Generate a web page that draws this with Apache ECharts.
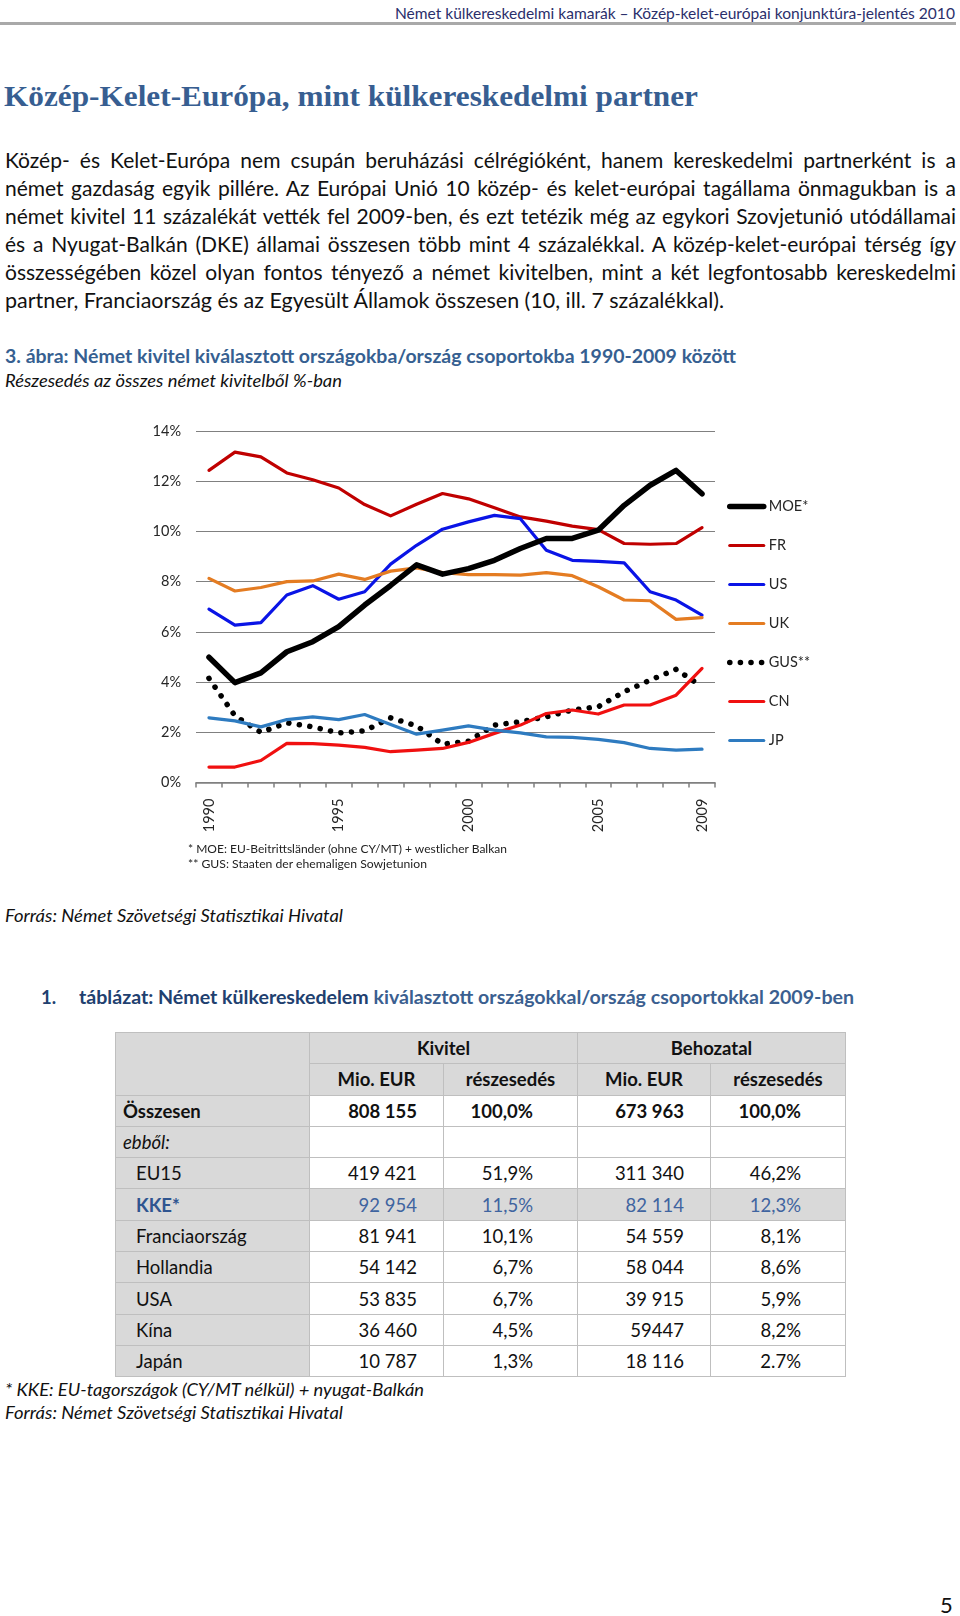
<!DOCTYPE html>
<html><head><meta charset="utf-8">
<script src="https://cdn.jsdelivr.net/npm/echarts@6/dist/echarts.min.js"></script>
<style>
html,body{margin:0;padding:0;background:#fff;}
body{width:960px;height:1616px;position:relative;overflow:hidden;font-family:Lato,'Open Sans',sans-serif;color:#111;}
.t{position:absolute;white-space:nowrap;display:inline-block;}
#rule{position:absolute;left:0;top:22px;width:956px;height:3px;background:#a9a9a9;}
table{position:absolute;left:115px;top:1032px;border-collapse:collapse;table-layout:fixed;font-size:18.5px;}
tr{height:31.3px;}
td{border:1.5px solid #bfbfbf;padding:0;white-space:nowrap;line-height:20px;}
td.g{background:#d9d9d9;}
td.lab{padding-left:7px;text-align:left;}
td.ind{padding-left:20px;}
td.m{text-align:right;padding-right:26px;}
td.p{text-align:right;padding-right:44px;}
td.h{text-align:center;font-weight:bold;}
.blue td.v{color:#3f64a0;}
</style></head>
<body>
<div class="t" id="hdr" data-w="560" data-anchor="right" style="right:5px;top:3px;font-size:15px;line-height:20px;color:#2b2f6b;">Német külkereskedelmi kamarák – Közép-kelet-európai konjunktúra-jelentés 2010</div>
<div id="rule"></div>
<div class="t" data-w="694" style="left:4px;top:78px;font-family:'Liberation Serif','DejaVu Serif',serif;font-weight:bold;font-size:29px;line-height:36px;color:#375e91;">Közép-Kelet-Európa, mint külkereskedelmi partner</div>

<div id="para"></div>

<div class="t" data-w="731" style="left:5px;top:344px;font-size:19px;line-height:24px;font-weight:bold;color:#365f91;">3. ábra: Német kivitel kiválasztott országokba/ország csoportokba 1990-2009 között</div>
<div class="t" data-w="337" style="left:5px;top:370px;font-size:16.5px;line-height:22px;font-style:italic;color:#111;">Részesedés az összes német kivitelből %-ban</div>

<div id="chart" style="position:absolute;left:0;top:400px;width:960px;height:480px;"></div>

<div class="t" data-w="319" style="left:188px;top:841px;font-size:12px;line-height:16px;color:#222;">* MOE: EU-Beitrittsländer (ohne CY/MT) + westlicher Balkan</div>
<div class="t" data-w="239" style="left:188px;top:856px;font-size:12px;line-height:16px;color:#222;">** GUS: Staaten der ehemaligen Sowjetunion</div>
<div class="t" data-w="338" style="left:5px;top:904px;font-size:17.5px;line-height:23px;font-style:italic;color:#111;">Forrás: Német Szövetségi Statisztikai Hivatal</div>

<div class="t" style="left:41px;top:985px;font-size:18.5px;line-height:24px;font-weight:bold;color:#21406f;">1.</div>
<div class="t" data-w="775" style="left:79px;top:985px;font-size:18.5px;line-height:24px;font-weight:bold;color:#21406f;">táblázat: Német külkereskedelem <span style="color:#3b5f90">kiválasztott országokkal/ország csoportokkal 2009-ben</span></div>

<table id="tbl"></table>

<div class="t" data-w="419" style="left:5px;top:1378px;font-size:17.5px;line-height:23px;font-style:italic;color:#111;">* KKE: EU-tagországok (CY/MT nélkül) + nyugat-Balkán</div>
<div class="t" data-w="338" style="left:5px;top:1401px;font-size:17.5px;line-height:23px;font-style:italic;color:#111;">Forrás: Német Szövetségi Statisztikai Hivatal</div>
<div class="t" style="left:940px;top:1592px;font-size:22px;line-height:26px;color:#111;">5</div>

<script>
// ---------- paragraph text ----------
const paraLines = [
  "Közép- és Kelet-Európa nem csupán beruházási célrégióként, hanem kereskedelmi partnerként is a",
  "német gazdaság egyik pillére. Az Európai Unió 10 közép- és kelet-európai tagállama önmagukban is a",
  "német kivitel 11 százalékát vették fel 2009-ben, és ezt tetézik még az egykori Szovjetunió utódállamai",
  "és a Nyugat-Balkán (DKE) államai összesen több mint 4 százalékkal. A közép-kelet-európai térség így",
  "összességében közel olyan fontos tényező a német kivitelben, mint a két legfontosabb kereskedelmi",
  "partner, Franciaország és az Egyesült Államok összesen (10, ill. 7 százalékkal)."
];

// ---------- chart data ----------
const years = ['1990','1991','1992','1993','1994','1995','1996','1997','1998','1999',
               '2000','2001','2002','2003','2004','2005','2006','2007','2008','2009'];
const xTickLabels = ['1990','1995','2000','2005','2009'];
const seriesNames = ['MOE*','FR','US','UK','GUS**','CN','JP'];
const moe = [4.99,3.98,4.37,5.21,5.61,6.21,7.07,7.85,8.67,8.30,8.52,8.85,9.32,9.72,9.72,10.05,11.04,11.84,12.43,11.50];
const fr  = [12.43,13.16,12.97,12.33,12.06,11.73,11.07,10.62,11.08,11.51,11.30,10.94,10.58,10.41,10.21,10.07,9.52,9.49,9.52,10.15];
const us  = [6.91,6.27,6.37,7.47,7.84,7.30,7.60,8.70,9.45,10.09,10.38,10.64,10.51,9.25,8.85,8.81,8.75,7.60,7.27,6.67];
const uk  = [8.13,7.63,7.77,8.00,8.03,8.30,8.09,8.42,8.55,8.36,8.28,8.28,8.26,8.36,8.24,7.80,7.27,7.24,6.50,6.57];
const gus = [4.15,2.66,2.00,2.38,2.22,1.98,2.06,2.58,2.26,1.53,1.65,2.29,2.42,2.62,2.89,3.02,3.62,4.08,4.51,3.82];
const cn  = [0.62,0.62,0.88,1.56,1.55,1.49,1.40,1.23,1.29,1.36,1.60,1.96,2.29,2.75,2.89,2.73,3.09,3.09,3.48,4.55];
const jp  = [2.58,2.46,2.22,2.51,2.62,2.51,2.71,2.31,1.93,2.09,2.26,2.09,1.98,1.82,1.80,1.72,1.59,1.36,1.29,1.33];
const yMin = 0, yMax = 14, yStep = 2;

// ---------- table data ----------
const tblHead1 = ['Kivitel','Behozatal'];
const tblHead2 = ['Mio. EUR','részesedés','Mio. EUR','részesedés'];
const rowLabels = ['Összesen','ebből:','EU15','KKE*','Franciaország','Hollandia','USA','Kína','Japán'];
const expEur  = ['808 155','','419 421','92 954','81 941','54 142','53 835','36 460','10 787'];
const expShr  = ['100,0%','','51,9%','11,5%','10,1%','6,7%','6,7%','4,5%','1,3%'];
const impEur  = ['673 963','','311 340','82 114','54 559','58 044','39 915','59447','18 116'];
const impShr  = ['100,0%','','46,2%','12,3%','8,1%','8,6%','5,9%','8,2%','2.7%'];

// build paragraph
const para = document.getElementById('para');
paraLines.forEach((s,i)=>{
  const d = document.createElement('div');
  d.className='t';
  d.textContent = s;
  d.style.left='5px';
  d.style.top=(146+i*27.9)+'px';
  d.style.fontSize='21px';
  d.style.lineHeight='27px';
  d.dataset.w = i < paraLines.length-1 ? '951' : '719';
  if (i < paraLines.length-1) d.dataset.just = '1';
  para.appendChild(d);
});

// build table
const tbl = document.getElementById('tbl');
const colW = [194,134,134,133,135];
let html = '<colgroup>' + colW.map(w=>'<col style="width:'+w+'px">').join('') + '</colgroup>';
html += '<tr><td class="g" rowspan="2"></td><td class="g h" colspan="2">'+tblHead1[0]+'</td><td class="g h" colspan="2">'+tblHead1[1]+'</td></tr>';
html += '<tr>' + tblHead2.map(h=>'<td class="g h">'+h+'</td>').join('') + '</tr>';
rowLabels.forEach((lab,i)=>{
  const isTot = i===0, isEbb = i===1, isK = i===3;
  let cls = isK ? ' class="blue"' : '';
  let labStyle = isTot ? 'font-weight:bold;' : isEbb ? 'font-style:italic;' : isK ? 'font-weight:bold;color:#2f5590;' : '';
  let labCls = 'g lab' + ((isTot||isEbb)?'':' ind');
  let vStyle = isTot ? ' style="font-weight:bold"' : '';
  let bg = isK ? ' g' : '';
  html += '<tr'+cls+'><td class="'+labCls+'" style="'+labStyle+'">'+lab+'</td>'+
    '<td class="m v'+bg+'"'+vStyle+'>'+expEur[i]+'</td>'+
    '<td class="p v'+bg+'"'+vStyle+'>'+expShr[i]+'</td>'+
    '<td class="m v'+bg+'"'+vStyle+'>'+impEur[i]+'</td>'+
    '<td class="p v'+bg+'"'+vStyle+'>'+impShr[i]+'</td></tr>';
});
tbl.innerHTML = html;

// fit text widths
document.querySelectorAll('[data-w]').forEach(el=>{
  const target = parseFloat(el.dataset.w);
  const nat = el.getBoundingClientRect().width;
  if (el.dataset.just && nat < target) {
    const n = (el.textContent.match(/ /g)||[]).length;
    el.style.wordSpacing = ((target-nat)/n)+'px';
  } else {
    el.style.transformOrigin = el.dataset.anchor==='right' ? 'right center' : 'left center';
    el.style.transform = 'scaleX('+(target/nat)+')';
  }
});

// chart
const chart = echarts.init(document.getElementById('chart'), null, {renderer:'canvas'});
const FONT = 'Lato, "Open Sans", sans-serif';
const colors = ['#000000','#c00000','#0a14e6','#e47c22','#000000','#f01010','#2e7bc0'];
const dataSets = [moe, fr, us, uk, gus, cn, jp];
const widths = [5.5,3.2,3.2,3.2,5.5,3.2,3.2];
chart.setOption({
  animation:false,
  textStyle:{fontFamily:FONT},
  grid:{left:196, right:245, top:31, height:351.6},
  xAxis:{
    type:'category', data:years, boundaryGap:true,
    axisLine:{lineStyle:{color:'#808080', width:1.5}},
    axisTick:{show:true, interval:0, length:5, lineStyle:{color:'#808080', width:1.5}},
    axisLabel:{rotate:90, margin:16, fontSize:14.5, color:'#262626', fontFamily:FONT,
      interval:(i,v)=>xTickLabels.includes(v)}
  },
  yAxis:{
    type:'value', min:yMin, max:yMax, interval:yStep,
    axisLine:{show:false}, axisTick:{show:false},
    splitLine:{lineStyle:{color:'#808080', width:1.2}},
    axisLabel:{formatter:'{value}%', margin:15, fontSize:14.5, color:'#262626', fontFamily:FONT}
  },
  legend:{
    orient:'vertical', left:722, top:94, padding:5, itemWidth:34, itemHeight:14, itemGap:24,
    textStyle:{fontSize:14.5, lineHeight:14, color:'#262626', fontFamily:FONT},
    itemStyle:{opacity:0, borderWidth:0},
    lineStyle:{width:'inherit', type:'inherit', cap:'inherit'},
    data:seriesNames
  },
  series: seriesNames.map((n,i)=>({
    name:n, type:'line', data:dataSets[i], symbol:'none', showSymbol:false,
    color:colors[i],
    lineStyle: i===4 ? {color:'#000', width:5.5, type:[0.1,10.5], cap:'round', join:'round'}
                     : {color:colors[i], width:widths[i], cap:'round', join:'round'},
    z: i===0 ? 3 : 2
  }))
});
</script>
</body></html>
